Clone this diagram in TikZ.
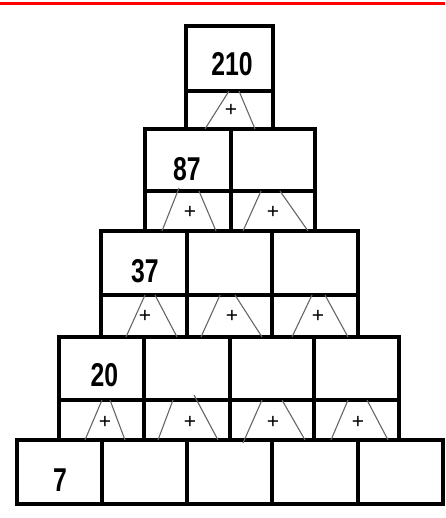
\documentclass[tikz,border=0pt]{standalone}
\usepackage{fontspec}
\setmainfont{Liberation Sans}
\begin{document}
\begin{tikzpicture}[x=1pt,y=-1pt,
  cell/.style={line width=3.2pt},
  tri/.style={draw=black!60, line width=1.1pt},
  num/.style={font=\bfseries\fontsize{33}{33}\selectfont, inner sep=0pt},
  plus/.style={font=\fontsize{21}{21}\selectfont, inner sep=0pt}]
\useasboundingbox (0,0) rectangle (445,518);
\draw[red, line width=2.2pt] (0,3.5) -- (445,3.5);
% row 1
\draw[cell] (186,26) rectangle (273,129);
\draw[cell] (186,91) -- (273,91);
% row 2
\draw[cell] (145,129) rectangle (315,231);
\draw[cell] (145,191) -- (315,191);
\draw[cell] (231,129) -- (231,231);
% row 3
\draw[cell] (101,231) rectangle (358,337);
\draw[cell] (101,295) -- (358,295);
\foreach \x in {187,272} \draw[cell] (\x,231) -- (\x,337);
% row 4
\draw[cell] (59,337) rectangle (399,440);
\draw[cell] (59,400) -- (399,400);
\foreach \x in {144,230,314} \draw[cell] (\x,337) -- (\x,440);
% row 5
\draw[cell] (17,440) rectangle (443,504);
\foreach \x in {102,187,272,358} \draw[cell] (\x,440) -- (\x,504);
% trapezoid lines
\foreach \a/\b/\c/\d/\e/\f/\g/\h in {
  229/91/205/129/239/91/255/129,
  179/188/162/231/199/191/216/231,
  261/191/243/231/280/191/308/231,
  145/295/126/337/155/295/177/337,
  220/295/201/337/235/295/262/337,
  312/295/292/337/325/295/348/337,
  102/400/85/440/110/400/125/440,
  173/400/158/440/194/395/218/440,
  262/400/243/443/282/400/305/440,
  348/400/331/440/367/400/388/440}
  {\draw[tri] (\a,\b) -- (\c,\d); \draw[tri] (\e,\f) -- (\g,\h);}
% plus signs
\node[plus] (p1) at (231,110.5) {+};
\node[plus] (p2a) at (190,212.5) {+};
\node[plus] (p2b) at (273,212.5) {+};
\node[plus] (p3a) at (145,316.5) {+};
\node[plus] (p3b) at (232,316.5) {+};
\node[plus] (p3c) at (318,316.5) {+};
\node[plus] (p4a) at (105,422.5) {+};
\node[plus] (p4b) at (190,422.5) {+};
\node[plus] (p4c) at (273,422.5) {+};
\node[plus] (p4d) at (358,422.5) {+};
% numbers
\node[num] (n210) at (232,64.5) {\scalebox{0.75}[1]{210}};
\node[num] (n87) at (187,169.5) {\scalebox{0.75}[1]{87}};
\node[num] (n37) at (145,271.5) {\scalebox{0.75}[1]{37}};
\node[num] (n20) at (104.5,375) {\scalebox{0.75}[1]{20}};
\node[num] (n7) at (60,480.5) {\scalebox{0.75}[1]{7}};
\end{tikzpicture}
\end{document}
